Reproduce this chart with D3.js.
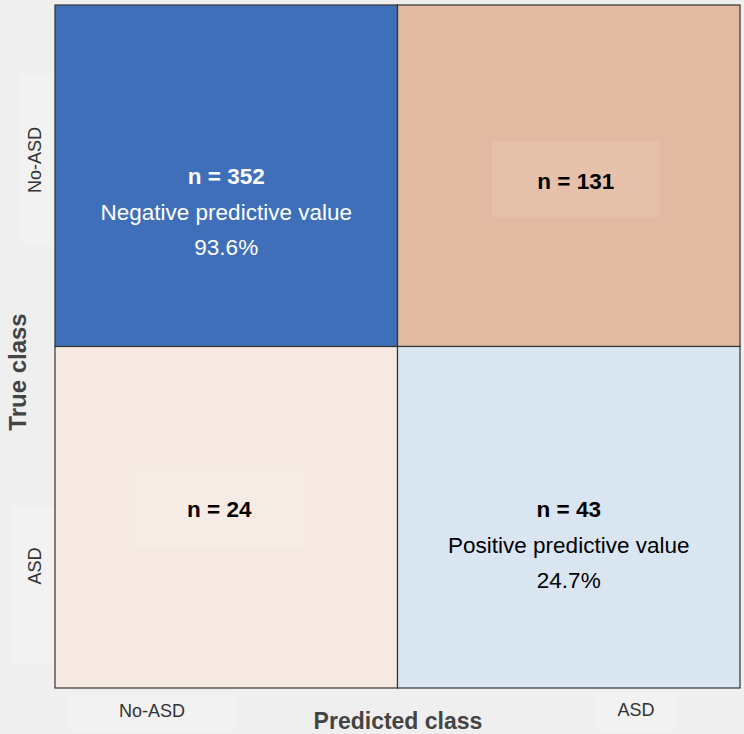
<!DOCTYPE html>
<html><head><meta charset="utf-8">
<script src="https://cdn.jsdelivr.net/npm/d3@7"></script>
<style>body{margin:0;background:#efefef;} svg{display:block;font-family:"Liberation Sans",Arial,sans-serif;}</style>
</head><body><svg id="c" width="744" height="734"></svg>
<script>
const predictedClasses = ["No-ASD", "ASD"];
const trueClasses = ["No-ASD", "ASD"];
const counts = [[352, 131], [24, 43]];
const cellColors = [["#406fb9", "#e2b9a1"], ["#f5e9e2", "#dae5f2"]];
const textColors = [["#ffffff", "#000000"], ["#000000", "#000000"]];
const extraLabels = [["Negative predictive value", null], [null, "Positive predictive value"]];
const extraValues = [["93.6%", null], [null, "24.7%"]];

const svg = d3.select("#c");
const m = {left: 55, top: 5, right: 4, bottom: 46};
const W = 744 - m.left - m.right, H = 734 - m.top - m.bottom;
const x = d3.scaleBand().domain(predictedClasses).range([m.left, m.left + W]);
const y = d3.scaleBand().domain(trueClasses).range([m.top, m.top + H]);

// faint label boxes behind axis tick labels
svg.append("rect").attr("x", 20).attr("y", y("No-ASD") + 70).attr("width", 32).attr("height", 168).attr("fill", "#f2f2f2");
svg.append("rect").attr("x", 13).attr("y", y("ASD") + 160).attr("width", 40).attr("height", 158).attr("fill", "#f2f2f2");
svg.append("rect").attr("x", 68).attr("y", 695).attr("width", 168).attr("height", 36).attr("fill", "#f2f2f2");
svg.append("rect").attr("x", 596).attr("y", 694).attr("width", 80).attr("height", 36).attr("fill", "#f2f2f2");

const cells = [];
trueClasses.forEach((t, i) => predictedClasses.forEach((p, j) => cells.push({t, p, i, j})));

svg.selectAll("rect.cell").data(cells).enter().append("rect").attr("class", "cell")
  .attr("x", d => x(d.p)).attr("y", d => y(d.t))
  .attr("width", x.bandwidth()).attr("height", y.bandwidth())
  .attr("fill", d => cellColors[d.i][d.j])
  .attr("stroke", "#333").attr("stroke-width", 1.2);

// faint highlight boxes behind count-only labels
cells.filter(d => !extraLabels[d.i][d.j]).forEach(d => {
  const cx = x(d.p) + x.bandwidth() / 2 + (d.i === 0 ? 7 : -6);
  const cy = y(d.t) + y.bandwidth() / 2 + (d.i === 0 ? 2 : -9);
  svg.append("rect").attr("x", cx - 84).attr("y", cy - 37).attr("width", 168).attr("height", 76)
    .attr("fill", "#ffffff").attr("opacity", 0.12);
});

const fs = 22.5;
cells.forEach(d => {
  const cx = x(d.p) + x.bandwidth() / 2;
  const cy0 = y(d.t) + y.bandwidth() / 2;
  const col = textColors[d.i][d.j];
  if (extraLabels[d.i][d.j]) {
    const off = d.i === 0 ? 0 : -8;
    svg.append("text").attr("x", cx).attr("y", cy0 + off).attr("dy", "0.35em").attr("text-anchor", "middle")
      .attr("font-size", fs).attr("font-weight", "bold").attr("fill", col).text("n = " + counts[d.i][d.j]);
    svg.append("text").attr("x", cx).attr("y", cy0 + off + 36).attr("dy", "0.35em").attr("text-anchor", "middle")
      .attr("font-size", fs).attr("fill", col).text(extraLabels[d.i][d.j]);
    svg.append("text").attr("x", cx).attr("y", cy0 + off + 71).attr("dy", "0.35em").attr("text-anchor", "middle")
      .attr("font-size", fs).attr("fill", col).text(extraValues[d.i][d.j]);
  } else {
    const off = d.i === 0 ? 5 : -8;
    svg.append("text").attr("x", cx + (d.i === 0 ? 7 : -7)).attr("y", cy0 + off).attr("dy", "0.35em").attr("text-anchor", "middle")
      .attr("font-size", fs).attr("font-weight", "bold").attr("fill", col).text("n = " + counts[d.i][d.j]);
  }
});

// x tick labels
svg.append("text").attr("x", 152).attr("y", 711).attr("dy", "0.35em").attr("text-anchor", "middle")
  .attr("font-size", 18).attr("fill", "#333").text(predictedClasses[0]);
svg.append("text").attr("x", 636).attr("y", 710).attr("dy", "0.35em").attr("text-anchor", "middle")
  .attr("font-size", 18).attr("fill", "#333").text(predictedClasses[1]);
// y tick labels
[[trueClasses[0], 160], [trueClasses[1], 566]].forEach(([lab, cy]) => {
  svg.append("text").attr("transform", `translate(35,${cy}) rotate(-90)`).attr("dy", "0.35em")
    .attr("text-anchor", "middle").attr("font-size", 18).attr("fill", "#333").text(lab);
});
// axis titles
svg.append("text").attr("x", 398).attr("y", 721).attr("dy", "0.35em").attr("text-anchor", "middle")
  .attr("font-size", 23).attr("font-weight", "bold").attr("fill", "#444").text("Predicted class");
svg.append("text").attr("transform", "translate(18,372) rotate(-90)").attr("dy", "0.35em")
  .attr("text-anchor", "middle").attr("font-size", 24).attr("font-weight", "bold").attr("fill", "#444").text("True class");
</script></body></html>
